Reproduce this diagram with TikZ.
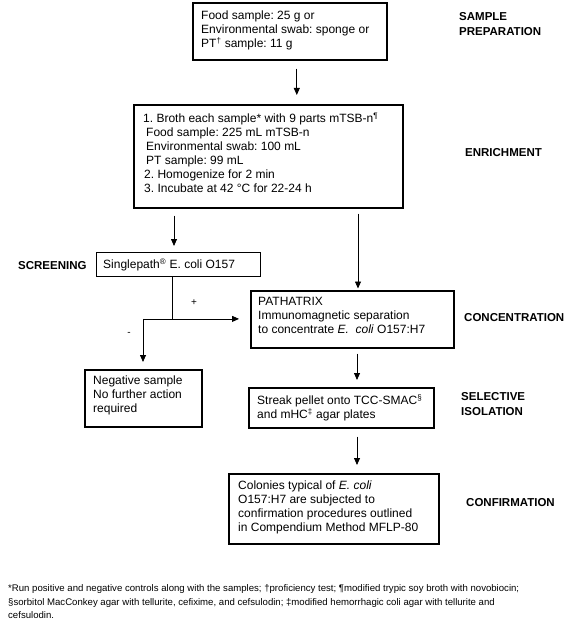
\documentclass[tikz,border=0pt]{standalone}
\usepackage{fontspec}
\setmainfont{Liberation Sans}
\usetikzlibrary{arrows.meta,calc}
\frenchspacing
\begin{document}
\frenchspacing
\begin{tikzpicture}[x=1pt,y=-1pt,
  box/.style={draw, line width=1.6pt, inner sep=0pt, anchor=north west},
  thinbox/.style={draw, line width=0.9pt, inner sep=0pt, anchor=north west},
  txt/.style={inner sep=0pt, anchor=north west, align=left, font=\fontsize{12}{14}\selectfont},
  lab/.style={inner sep=0pt, anchor=west, align=left, font=\bfseries\fontsize{11.5}{14.5}\selectfont},
  labnw/.style={lab, anchor=north west},
  note/.style={inner sep=0pt, anchor=north west, align=left, font=\fontsize{9.6}{13.5}\selectfont},
  arr/.style={line width=0.8pt, -{Triangle[length=7pt,width=6pt]}},
  ln/.style={line width=0.8pt}]
\useasboundingbox (0,0) rectangle (585,623);

% boxes
\node[box, minimum width=194pt, minimum height=57pt] (b1) at (192,2) {};
\node[box, minimum width=269pt, minimum height=103pt] (b2) at (133,104) {};
\node[thinbox, minimum width=164pt, minimum height=24pt] (screen) at (96,252) {};
\node[box, minimum width=203pt, minimum height=57pt] (path) at (250,290) {};
\node[box, minimum width=117pt, minimum height=57pt] (neg) at (84,369) {};
\node[box, minimum width=185pt, minimum height=40pt] (streak) at (248,387) {};
\node[box, minimum width=210pt, minimum height=70pt] (conf) at (228,473) {};

% box texts
\node[txt] (t1) at (201,10.5) {Food sample: 25 g or\\Environmental swab: sponge or\\PT\textsuperscript{†} sample: 11 g};
\node[txt] (t2) at (143,112.5) {1. Broth each sample* with 9 parts mTSB-n\textsuperscript{¶}\\
\hspace*{3pt}Food sample: 225 mL mTSB-n\\
\hspace*{3pt}Environmental swab: 100 mL\\
\hspace*{3pt}PT sample: 99 mL\\
\hspace*{1pt}2. Homogenize for 2 min\\
\hspace*{1pt}3. Incubate at 42 °C for 22-24 h};
\node[txt] (tscreen) at (103,258.5) {Singlepath\textsuperscript{®} E. coli O157};
\node[txt] (tpath) at (258,297.5) {PATHATRIX\\Immunomagnetic separation\\to concentrate \textit{E.\ \ coli} O157:H7};
\node[txt] (tneg) at (93,375.5) {Negative sample\\No further action\\required};
\node[txt] (tstreak) at (257,394.5) {Streak pellet onto TCC-SMAC\textsuperscript{§}\\and mHC\textsuperscript{‡} agar plates};
\node[txt] (tconf) at (238,480.5) {Colonies typical of \textit{E. coli}\\O157:H7 are subjected to\\confirmation procedures outlined\\in Compendium Method MFLP-80};

% stage labels
\node[labnw] (l1) at (459,12.5) {SAMPLE\\PREPARATION};
\node[lab] (l2) at (465,153) {ENRICHMENT};
\node[lab] (l3) at (18,266) {SCREENING};
\node[lab] (l4) at (464,318) {CONCENTRATION};
\node[labnw] (l5) at (461,392.5) {SELECTIVE\\ISOLATION};
\node[lab] (l6) at (466,503) {CONFIRMATION};

% connectors
\coordinate (a1) at ($(b1.south)+(7,0)$);
\draw[arr, shorten <=8pt, shorten >=9pt] (a1) -- (a1 |- b2.north);
\coordinate (a2) at ($(b2.south west)+(41,0)$);
\draw[arr, shorten <=7pt, shorten >=6pt] (a2) -- (a2 |- screen.north);
\coordinate (a3) at ($(b2.south west)+(225,0)$);
\draw[arr, shorten <=5pt, shorten >=1.5pt] (a3) -- (a3 |- path.north);
\coordinate (j) at ($(screen.south west)+(76,42)$);
\coordinate (k) at ($(j)+(-29,0)$);
\draw[ln] (screen.south -| j) -- (j);
\draw[ln] (k) -- (j);
\draw[arr, shorten >=11pt] (k) -- (k -| path.west);
\draw[arr, shorten >=7pt] (k) -- (k |- neg.north);
\node[inner sep=0pt, font=\fontsize{10}{12}\selectfont] (plus) at ($(j)+(22,-16)$) {+};
\node[inner sep=0pt, font=\fontsize{10}{12}\selectfont] (minus) at ($(k)+(-14,15)$) {-};
\coordinate (a4) at ($(path.south west)+(107,0)$);
\draw[arr, shorten <=5pt, shorten >=7pt] (a4) -- (a4 |- streak.north);
\coordinate (a5) at ($(streak.south west)+(109,0)$);
\draw[arr, shorten <=8pt, shorten >=8pt] (a5) -- (a5 |- conf.north);

% footnote
\node[note] (fn) at (8,584.5) {*Run positive and negative controls along with the samples; †proficiency test; ¶modified trypic soy broth with novobiocin;\\
§sorbitol MacConkey agar with tellurite, cefixime, and cefsulodin; ‡modified hemorrhagic coli agar with tellurite and\\
cefsulodin.};
\end{tikzpicture}
\end{document}
